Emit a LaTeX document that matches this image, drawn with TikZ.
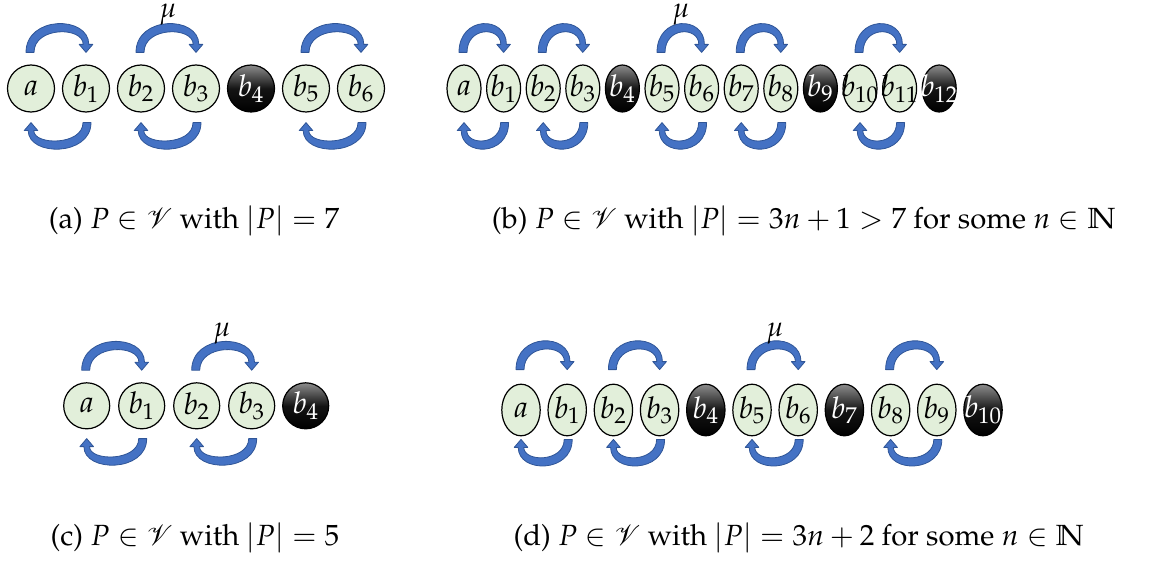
\documentclass[tikz,border=0pt]{standalone}
\usepackage[T1]{fontenc}
\usepackage{mathpazo}
\usepackage{amssymb}
\usepackage{mathrsfs}
\usetikzlibrary{shapes.geometric,calc}
\definecolor{nodegreen}{HTML}{E2EFDA}
\definecolor{flowblue}{HTML}{4472C4}
\definecolor{flowdark}{HTML}{2F5597}
\tikzset{
  labfont/.style={font=\fontsize{15}{17}\selectfont},
  glab/.style={label={[labfont,text=black]center:$#1$}},
  klab/.style={label={[labfont,text=white]center:$#1$}},
  gnode/.style={draw=black,line width=0.6pt,fill=nodegreen,inner sep=0pt},
  knode/.style={draw=black,line width=0.6pt,top color=black!45,bottom color=black,middle color=black!92,inner sep=0pt},
  circA/.style={circle,minimum size=23.5pt},
  circC/.style={circle,minimum size=23pt},
  ellB/.style={ellipse,minimum width=17pt,minimum height=23.5pt},
  ellD/.style={ellipse,minimum width=19.2pt,minimum height=25.8pt},
  flowshape/.style={fill=flowblue,draw=flowdark,line width=0.4pt,line join=round},
  mulabel/.style={anchor=base,inner sep=0pt,font=\fontsize{14}{16}\selectfont},
  captext/.style={anchor=base,font=\fontsize{14.6}{17}\selectfont}
}
% curved arrow over the top: from left node #1 to right node #2, gap #3 above nodes
\newcommand\topflow[3]{%
  \path[flowshape] let \p1=(#1.north), \p2=(#2.north) in
    (\x1-2.5pt,\y1+#3) .. controls (\x1-2.5pt,\y1+#3+18.5pt) and (\x2+1.4pt,\y1+#3+18.5pt) .. (\x2+1.4pt,\y1+#3+4pt)
    -- (\x2+3.4pt,\y1+#3+4pt) -- (\x2,\y1+#3) -- (\x2-3.4pt,\y1+#3+4pt) -- (\x2-1.4pt,\y1+#3+4pt)
    .. controls (\x2-1.4pt,\y1+#3+13pt) and (\x1+1.5pt,\y1+#3+13pt) .. (\x1+1.5pt,\y1+#3) -- cycle;}
% curved arrow underneath: from right node #2 back to left node #1, gap #3 below nodes
\newcommand\botflow[3]{%
  \path[flowshape] let \p1=(#1.south), \p2=(#2.south) in
    (\x2+2.5pt,\y2-#3) .. controls (\x2+2.5pt,\y2-#3-17pt) and (\x1-1.4pt,\y2-#3-17pt) .. (\x1-1.4pt,\y2-#3-4pt)
    -- (\x1-3.4pt,\y2-#3-4pt) -- (\x1,\y2-#3) -- (\x1+3.4pt,\y2-#3-4pt) -- (\x1+1.4pt,\y2-#3-4pt)
    .. controls (\x1+1.4pt,\y2-#3-11.5pt) and (\x2-1.5pt,\y2-#3-11.5pt) .. (\x2-1.5pt,\y2-#3) -- cycle;}
\begin{document}
\begin{tikzpicture}[x=0.5pt,y=-0.5pt]
\useasboundingbox (0,0) rectangle (1165,561);
% ---------------- (a)
\node[gnode,circA,glab=a]   (A0) at ( 31,88.5) {};
\node[gnode,circA,glab=b_1] (A1) at ( 86,88.5) {};
\node[gnode,circA,glab=b_2] (A2) at (141,88.5) {};
\node[gnode,circA,glab=b_3] (A3) at (196,88.5) {};
\node[knode,circA,klab=b_4] (A4) at (251,88.5) {};
\node[gnode,circA,glab=b_5] (A5) at (306,88.5) {};
\node[gnode,circA,glab=b_6] (A6) at (361,88.5) {};
\foreach \l/\r in {A0/A1,A2/A3,A5/A6}{
  \topflow{\l}{\r}{6pt}
  \botflow{\l}{\r}{5pt}
}
\node[mulabel] (muA) at (168,18) {$\mu$};
\node[captext] (capA) at (194,228) {(a) $P\in\mathscr{V}$ with $|P|=7$};
% ---------------- (b)
\node[gnode,ellB,glab=a]      (B0)  at (464.0,88.5) {};
\node[gnode,ellB,glab=b_1]    (B1)  at (503.6,88.5) {};
\node[gnode,ellB,glab=b_2]    (B2)  at (543.2,88.5) {};
\node[gnode,ellB,glab=b_3]    (B3)  at (582.8,88.5) {};
\node[knode,ellB,klab=b_4]    (B4)  at (622.4,88.5) {};
\node[gnode,ellB,glab=b_5]    (B5)  at (662.0,88.5) {};
\node[gnode,ellB,glab=b_6]    (B6)  at (701.6,88.5) {};
\node[gnode,ellB,glab=b_7]    (B7)  at (741.2,88.5) {};
\node[gnode,ellB,glab=b_8]    (B8)  at (780.8,88.5) {};
\node[knode,ellB,klab=b_9]    (B9)  at (820.4,88.5) {};
\node[gnode,ellB,glab=b_{10}] (B10) at (860.0,88.5) {};
\node[gnode,ellB,glab=b_{11}] (B11) at (899.6,88.5) {};
\node[knode,ellB,klab=b_{12}] (B12) at (939.2,88.5) {};
\foreach \l/\r in {B0/B1,B2/B3,B5/B6,B7/B8,B10/B11}{
  \topflow{\l}{\r}{6pt}
  \botflow{\l}{\r}{5pt}
}
\node[mulabel] (muB) at (681,18) {$\mu$};
\node[captext] (capB) at (804,228) {(b) $P\in\mathscr{V}$ with $|P|=3n+1>7$ for some $n\in\mathbb{N}$};
% ---------------- (c)
\node[gnode,circC,glab=a]   (C0) at ( 86.7,405.8) {};
\node[gnode,circC,glab=b_1] (C1) at (141.7,405.8) {};
\node[gnode,circC,glab=b_2] (C2) at (196.7,405.8) {};
\node[gnode,circC,glab=b_3] (C3) at (251.7,405.8) {};
\node[knode,circC,klab=b_4] (C4) at (305.7,405.8) {};
\foreach \l/\r in {C0/C1,C2/C3}{
  \topflow{\l}{\r}{6pt}
  \botflow{\l}{\r}{4.6pt}
}
\node[mulabel] (muC) at (222,336) {$\mu$};
\node[captext] (capC) at (195,545) {(c) $P\in\mathscr{V}$ with $|P|=5$};
% ---------------- (d)
\node[gnode,ellD,glab=a]      (D0)  at (521.0,410) {};
\node[gnode,ellD,glab=b_1]    (D1)  at (567.2,410) {};
\node[gnode,ellD,glab=b_2]    (D2)  at (613.4,410) {};
\node[gnode,ellD,glab=b_3]    (D3)  at (659.6,410) {};
\node[knode,ellD,klab=b_4]    (D4)  at (705.8,410) {};
\node[gnode,ellD,glab=b_5]    (D5)  at (752.0,410) {};
\node[gnode,ellD,glab=b_6]    (D6)  at (798.2,410) {};
\node[knode,ellD,klab=b_7]    (D7)  at (844.4,410) {};
\node[gnode,ellD,glab=b_8]    (D8)  at (890.6,410) {};
\node[gnode,ellD,glab=b_9]    (D9)  at (936.8,410) {};
\node[knode,ellD,klab=b_{10}] (D10) at (983.0,410) {};
\foreach \l/\r in {D0/D1,D2/D3,D5/D6,D8/D9}{
  \topflow{\l}{\r}{7pt}
  \botflow{\l}{\r}{1.5pt}
}
\node[mulabel] (muD) at (775,336) {$\mu$};
\node[captext] (capD) at (799,545) {(d) $P\in\mathscr{V}$ with $|P|=3n+2$ for some $n\in\mathbb{N}$};
\end{tikzpicture}
\end{document}
